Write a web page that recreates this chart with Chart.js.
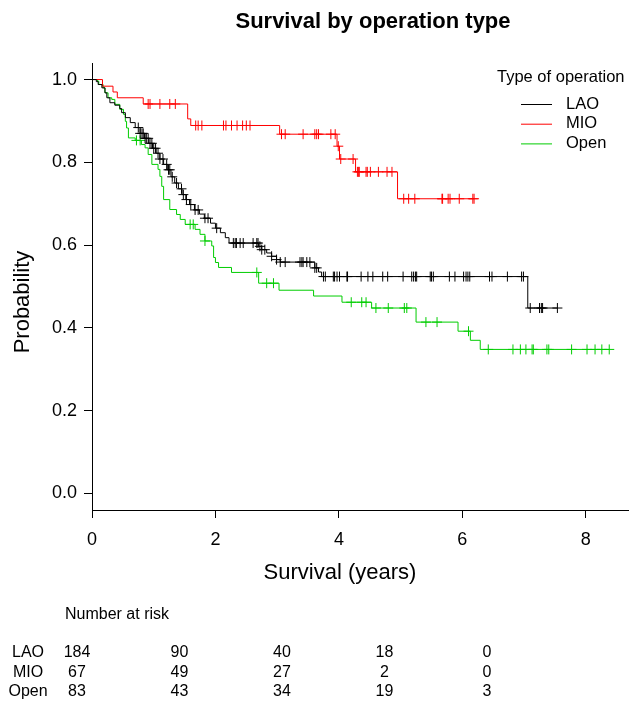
<!DOCTYPE html>
<html>
<head>
<meta charset="utf-8">
<script src="https://cdn.jsdelivr.net/npm/chart.js@4"></script>
<style>
  body { margin: 0; background: #fff; }
  canvas { display: block; }
</style>
</head>
<body>
<canvas id="km" width="629" height="701"></canvas>
<script>
// groups and colours
const groups = ['LAO', 'MIO', 'Open'];
const groupColors = ['#000000', '#ff0000', '#00cd00'];

// Kaplan-Meier step times and survival after each step
const laoTimes = [0.07, 0.10, 0.16, 0.21, 0.24, 0.29, 0.37, 0.45, 0.48, 0.54, 0.62, 0.70, 0.78, 0.85, 0.92, 0.98,
  1.04, 1.10, 1.16, 1.22, 1.28, 1.34, 1.40, 1.46, 1.52, 1.58, 1.66, 1.74, 1.82, 1.92, 2.00, 2.08, 2.16, 2.22,
  2.70, 2.75, 2.83, 2.91, 2.99, 3.05, 3.61, 3.67, 3.72, 7.06];
const laoSurv = [0.995, 0.988, 0.980, 0.968, 0.956, 0.944, 0.938, 0.930, 0.920, 0.908, 0.896, 0.884, 0.870, 0.858, 0.846, 0.834,
  0.822, 0.808, 0.795, 0.782, 0.765, 0.750, 0.736, 0.722, 0.710, 0.698, 0.685, 0.675, 0.665, 0.653, 0.641, 0.630, 0.618, 0.605,
  0.597, 0.589, 0.581, 0.573, 0.565, 0.559, 0.545, 0.535, 0.524, 0.448];
const laoCensor = [0.75, 0.78, 0.81, 0.83, 0.86, 0.88, 0.91, 0.94, 0.97, 1.00, 1.03, 1.07, 1.10, 1.15, 1.21, 1.24, 1.26, 1.30,
  1.37, 1.45, 1.48, 1.53, 1.60, 1.67, 1.72, 1.83, 1.88, 2.02, 2.29, 2.32, 2.34, 2.40, 2.45, 2.61, 2.67, 2.69, 2.72,
  2.75, 2.80, 2.91, 2.99, 3.05, 3.13, 3.37, 3.40, 3.42, 3.48, 3.53, 3.61, 3.64, 3.75, 3.78, 3.91, 3.93, 3.97, 4.01,
  4.13, 4.14, 4.36, 4.47, 4.55, 4.71, 4.79, 5.04, 5.18, 5.21, 5.24, 5.26, 5.48, 5.50, 5.53, 5.79, 5.88, 6.02, 6.06,
  6.09, 6.12, 6.44, 6.48, 6.73, 6.96, 6.99, 7.10, 7.25, 7.28, 7.30, 7.54];
const laoEnd = 7.54;

const mioTimes = [0.17, 0.34, 0.41, 0.83, 1.55, 1.60, 3.04, 3.97, 4.01, 4.27, 4.95];
const mioSurv = [0.984, 0.970, 0.956, 0.941, 0.905, 0.889, 0.868, 0.839, 0.808, 0.777, 0.712];
const mioCensor = [0.91, 0.94, 1.10, 1.26, 1.35, 1.68, 1.72, 1.78, 2.13, 2.17, 2.26, 2.35, 2.44, 2.50, 2.56,
  3.07, 3.13, 3.42, 3.61, 3.64, 3.67, 3.87, 3.94, 3.99, 4.03, 4.23, 4.30, 4.32, 4.33, 4.44, 4.46, 4.51, 4.64,
  4.78, 4.86, 5.05, 5.13, 5.23, 5.67, 5.68, 5.77, 5.80, 5.95, 6.17, 6.19];
const mioEnd = 6.19;

const openTimes = [0.09, 0.11, 0.18, 0.21, 0.26, 0.32, 0.37, 0.45, 0.51, 0.54, 0.56, 0.59, 0.70, 0.80, 0.86, 0.91,
  0.97, 1.07, 1.10, 1.13, 1.16, 1.26, 1.37, 1.43, 1.51, 1.67, 1.75, 1.83, 1.94, 1.97, 2.00, 2.05, 2.26, 2.70,
  3.03, 3.59, 4.05, 4.53, 5.25, 5.93, 6.13, 6.29];
const openSurv = [0.996, 0.988, 0.980, 0.968, 0.956, 0.952, 0.940, 0.928, 0.916, 0.899, 0.883, 0.859, 0.853, 0.843, 0.835, 0.819,
  0.795, 0.783, 0.766, 0.742, 0.710, 0.686, 0.674, 0.662, 0.650, 0.638, 0.626, 0.610, 0.598, 0.570, 0.558, 0.546, 0.534, 0.508,
  0.491, 0.477, 0.462, 0.448, 0.414, 0.392, 0.370, 0.348];
const openCensor = [0.72, 0.78, 1.59, 1.64, 1.83, 2.67, 2.83, 2.94, 4.20, 4.37, 4.44, 4.60, 4.80, 5.06, 5.10, 5.41,
  5.59, 6.10, 6.42, 6.82, 6.94, 7.03, 7.13, 7.15, 7.37, 7.40, 7.77, 8.02, 8.15, 8.26, 8.38];
const openEnd = 8.38;

// axis ticks
const xTicks = [0, 2, 4, 6, 8];
const yTicks = [0, 0.2, 0.4, 0.6, 0.8, 1.0];

// number at risk table
const riskTimes = [0, 2, 4, 6, 8];
const riskLAO = [184, 90, 40, 18, 0];
const riskMIO = [67, 49, 27, 2, 0];
const riskOpen = [83, 43, 34, 19, 3];

const FONT = '"Liberation Sans", Arial, Helvetica, sans-serif';

function survAt(times, surv, t) {
    let s = 1;
    for (let i = 0; i < times.length; i++) {
        if (times[i] <= t) s = surv[i];
    }
    return s;
}

function curvePoints(times, surv, end) {
    const pts = [{x: 0, y: 1}];
    for (let i = 0; i < times.length; i++) pts.push({x: times[i], y: surv[i]});
    pts.push({x: end, y: surv[surv.length - 1]});
    return pts;
}

function censorPoints(times, surv, cens) {
    return cens.map(t => ({x: t, y: survAt(times, surv, t)}));
}

const series = [
    [laoTimes, laoSurv, laoCensor, laoEnd],
    [mioTimes, mioSurv, mioCensor, mioEnd],
    [openTimes, openSurv, openCensor, openEnd]
];

const datasets = [];
series.forEach((s, i) => {
    datasets.push({
        type: 'line',
        label: groups[i],
        data: curvePoints(s[0], s[1], s[3]),
        stepped: 'before',
        borderColor: groupColors[i],
        borderWidth: 1,
        pointRadius: 0,
        fill: false
    });
    datasets.push({
        type: 'scatter',
        label: groups[i] + ' censored',
        data: censorPoints(s[0], s[1], s[2]),
        pointStyle: 'cross',
        pointRadius: 5,
        borderColor: groupColors[i],
        backgroundColor: groupColors[i],
        borderWidth: 1
    });
});

// titles, legend and risk table drawn after the chart
const extraText = {
    id: 'extraText',
    afterDraw(chart) {
        const ctx = chart.ctx;
        ctx.save();
        ctx.fillStyle = '#000';
        ctx.textBaseline = 'middle';

        ctx.font = 'bold 22px ' + FONT;
        ctx.textAlign = 'center';
        ctx.fillText('Survival by operation type', 373, 22);

        ctx.font = '22px ' + FONT;
        ctx.fillText('Survival (years)', 340, 573);
        ctx.save();
        ctx.translate(23, 302);
        ctx.rotate(-Math.PI / 2);
        ctx.fillText('Probability', 0, 0);
        ctx.restore();

        // legend
        ctx.font = '16.5px ' + FONT;
        ctx.textAlign = 'left';
        ctx.fillText('Type of operation', 497, 77);
        groups.forEach((g, i) => {
            const y = 104 + i * 19.7;
            ctx.strokeStyle = groupColors[i];
            ctx.lineWidth = 1;
            ctx.beginPath();
            ctx.moveTo(521, y + 0.5);
            ctx.lineTo(552, y + 0.5);
            ctx.stroke();
            ctx.fillText(g, 566, y);
        });

        // number at risk
        ctx.font = '16px ' + FONT;
        ctx.fillText('Number at risk', 65, 615);
        const rows = [riskLAO, riskMIO, riskOpen];
        rows.forEach((row, r) => {
            const y = 653 + r * 19.5;
            ctx.textAlign = 'center';
            ctx.fillText(groups[r], 28, y);
            row.forEach((v, c) => {
                ctx.fillText(String(v), 77 + riskTimes[c] * 51.25, y);
            });
        });
        ctx.restore();
    }
};

const chart = new Chart(document.getElementById('km'), {
    data: { datasets: datasets },
    options: {
        responsive: false,
        animation: false,
        devicePixelRatio: 1,
        layout: { autoPadding: false, padding: { top: 63, right: 0, left: 0, bottom: 0 } },
        plugins: {
            legend: { display: false },
            tooltip: { enabled: false }
        },
        scales: {
            x: {
                type: 'linear',
                min: 0,
                max: 8.7,
                afterBuildTicks: s => { s.ticks = xTicks.map(v => ({value: v})); },
                afterFit: s => { s.height = 701 - 510; },
                grid: { display: true, drawOnChartArea: false, drawTicks: true, tickLength: 8, color: '#000' },
                border: { display: true, color: '#000', width: 1 },
                ticks: { color: '#000', font: { family: FONT, size: 18 }, padding: 11, maxRotation: 0 }
            },
            y: {
                type: 'linear',
                min: -0.04,
                max: 1.04,
                afterBuildTicks: s => { s.ticks = yTicks.map(v => ({value: v})); },
                afterFit: s => { s.width = 92; },
                grid: { display: true, drawOnChartArea: false, drawTicks: true, tickLength: 8, color: '#000' },
                border: { display: true, color: '#000', width: 1 },
                ticks: {
                    color: '#000', font: { family: FONT, size: 18 }, padding: 7,
                    callback: v => v.toFixed(1)
                }
            }
        }
    },
    plugins: [extraText]
});
</script>
</body>
</html>
